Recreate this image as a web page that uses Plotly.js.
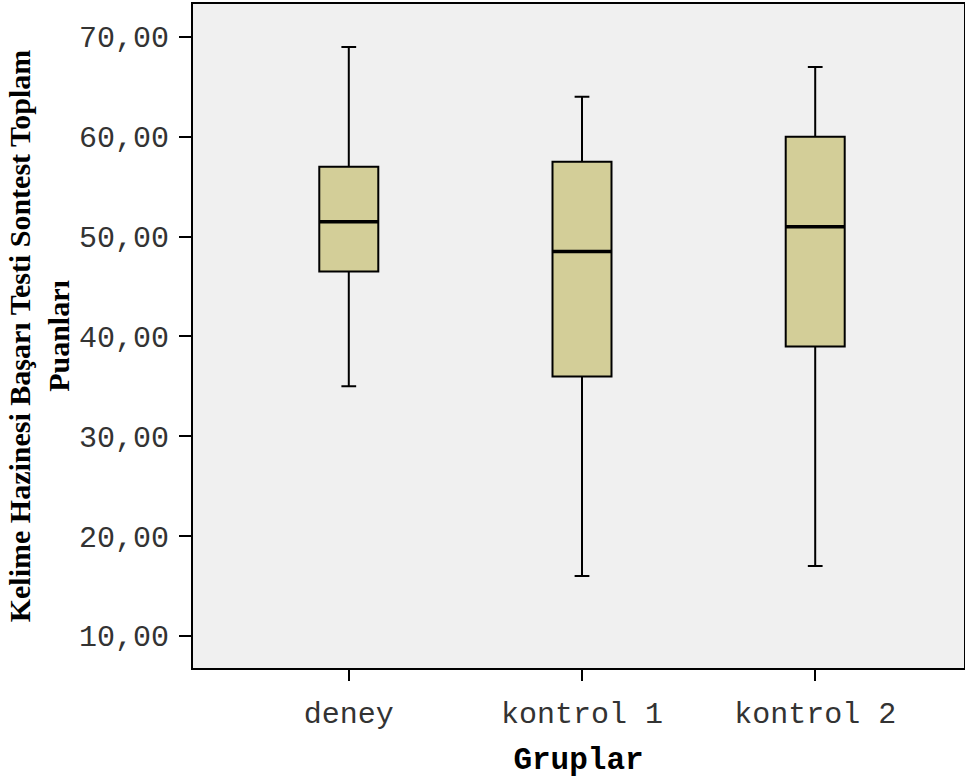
<!DOCTYPE html>
<html>
<head>
<meta charset="utf-8">
<script src="https://cdn.plot.ly/plotly-3.0.1.min.js"></script>
<style>html,body{margin:0;padding:0;background:#fff;}#chart{width:965px;height:778px;}</style>
</head>
<body>
<div id="chart"></div>
<script>
const categories = ["deney", "kontrol 1", "kontrol 2"];
const lowerWhisker = [35, 16, 17];
const q1 = [46.5, 36, 39];
const median = [51.5, 48.5, 51];
const q3 = [57, 57.5, 60];
const upperWhisker = [69, 64, 67];
const yTickVals = [10, 20, 30, 40, 50, 60, 70];
const yTickText = ["10,00", "20,00", "30,00", "40,00", "50,00", "60,00", "70,00"];

const xpos = categories.map((c, i) => i);
const boxW = 0.253;

const traces = [{
  type: "box",
  x: xpos,
  q1: q1,
  median: median,
  q3: q3,
  lowerfence: lowerWhisker,
  upperfence: upperWhisker,
  width: boxW,
  whiskerwidth: 0.25,
  fillcolor: "#D3CE98",
  line: {color: "#000", width: 2},
  boxpoints: false,
  hoverinfo: "skip",
  showlegend: false
}];
categories.forEach((c, i) => {
  traces.push({
    type: "scatter", mode: "lines",
    x: [i - boxW / 2, i + boxW / 2],
    y: [median[i], median[i]],
    line: {color: "#000", width: 3.5},
    hoverinfo: "skip", showlegend: false
  });
});

const monoFont = "Liberation Mono, Courier New, monospace";
const layout = {
  width: 965, height: 778,
  margin: {l: 193, r: 1, t: 4, b: 110},
  paper_bgcolor: "#fff",
  plot_bgcolor: "#F0F0F0",
  showlegend: false,
  xaxis: {
    range: [-0.668, 2.638],
    tickvals: xpos,
    ticktext: categories,
    ticks: "outside", ticklen: 11, tickwidth: 2, tickcolor: "#000",
    ticklabelstandoff: 6,
    showgrid: false, zeroline: false,
    showline: true, linecolor: "#000", linewidth: 2, mirror: true,
    tickfont: {family: monoFont, size: 30, color: "#333"},
    title: {text: "<b>Gruplar</b>", font: {family: monoFont, size: 31, color: "#000"}, standoff: 20}
  },
  yaxis: {
    range: [6.79, 73.3],
    tickvals: yTickVals,
    ticktext: yTickText,
    ticks: "outside", ticklen: 12, tickwidth: 2, tickcolor: "#000",
    ticklabelstandoff: 4,
    showgrid: false, zeroline: false,
    showline: true, linecolor: "#000", linewidth: 2, mirror: true,
    tickfont: {family: monoFont, size: 30, color: "#333"},
    title: {text: "<b>Kelime Hazinesi Başarı Testi Sontest Toplam<br>Puanları</b>", font: {family: "Liberation Serif, Times New Roman, serif", size: 30, color: "#000"}, standoff: 0}
  }
};

Plotly.newPlot("chart", traces, layout, {staticPlot: true, displayModeBar: false});
</script>
</body>
</html>
